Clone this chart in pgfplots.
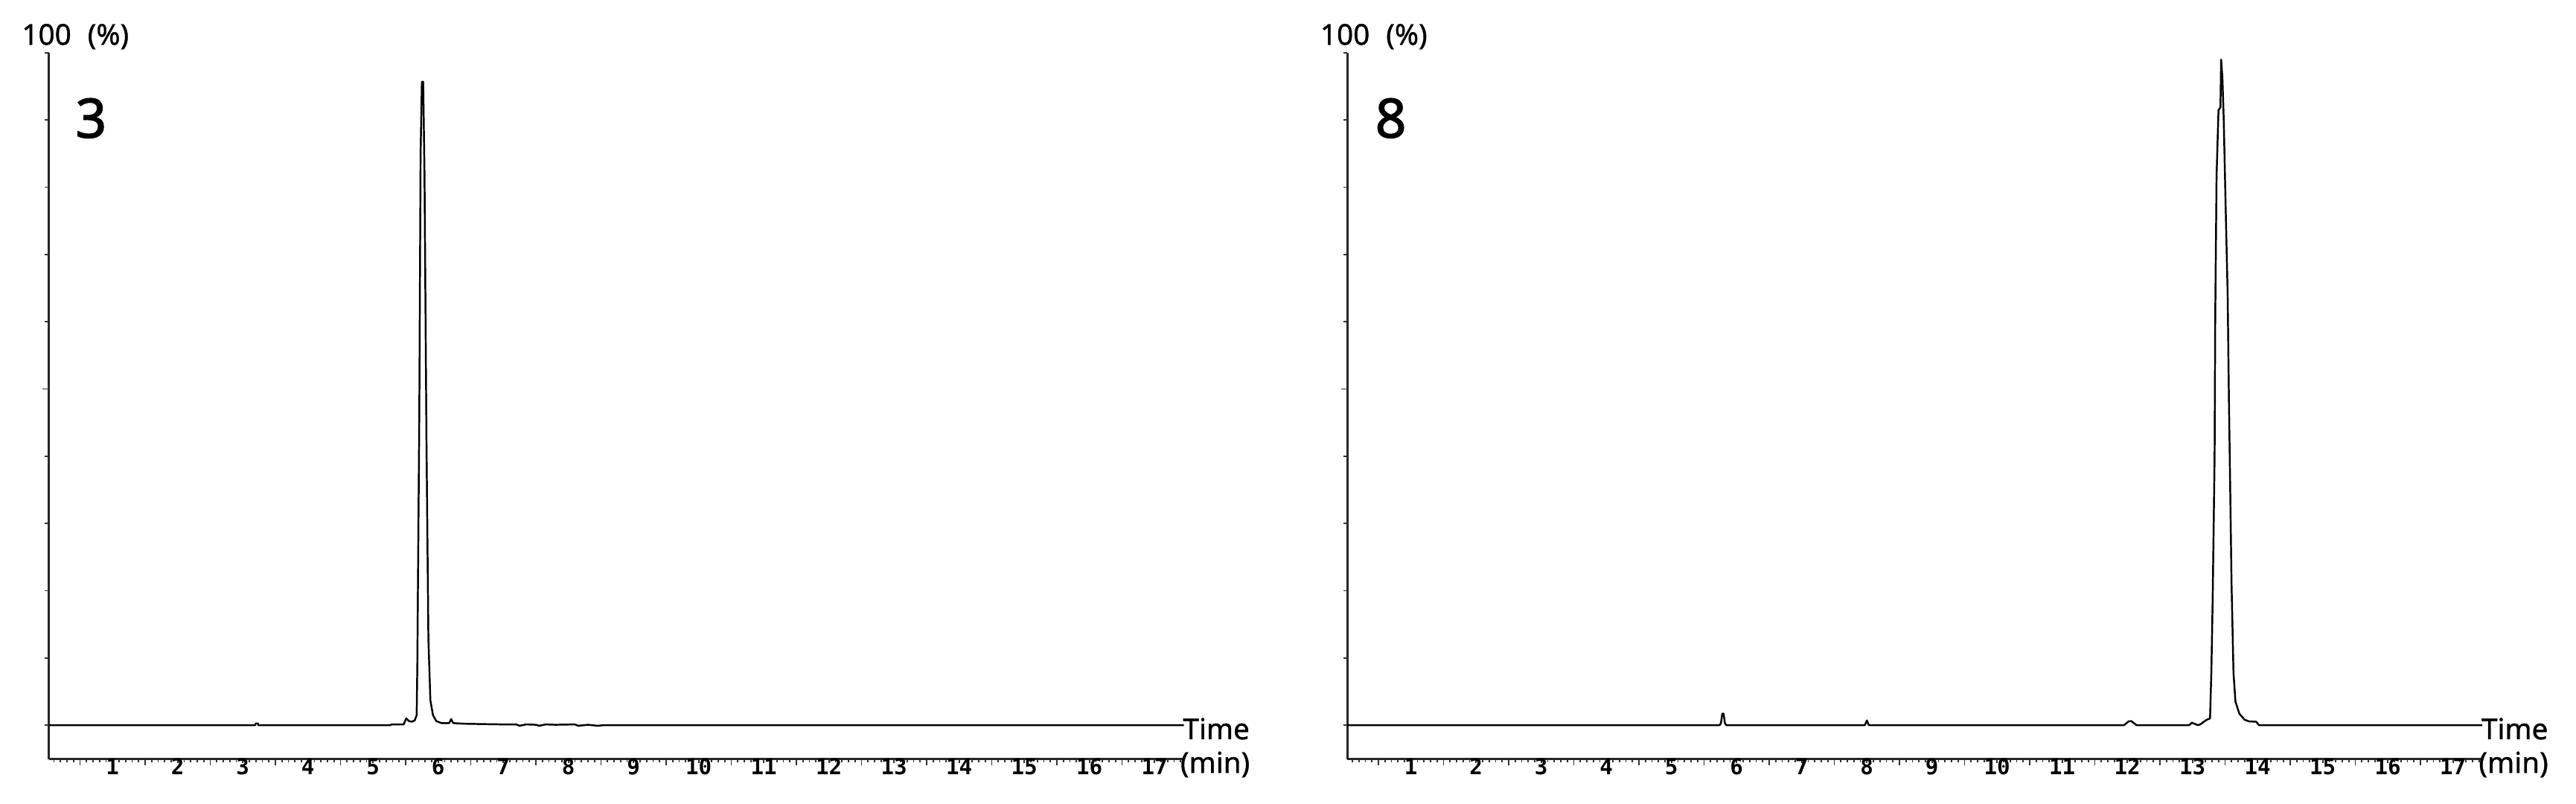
\documentclass[border=0pt]{standalone}
\usepackage{fontspec}
\setmainfont{Noto Sans}
\newfontfamily\lblfont{Noto Sans}[FakeBold=1]
\newfontfamily\bigfont{Noto Sans}[FakeBold=2]
\newfontfamily\tickfont{DejaVu Sans Mono}
\usepackage{pgfplots}
\pgfplotsset{compat=1.18}
\pgfplotsset{
  chrom/.style={
    scale only axis,
    width=15.25cm, height=9.49cm,
    xmin=0.02, xmax=17.45,
    ymin=-5.09, ymax=100,
    axis x line=bottom, axis y line=left,
    axis line style={-, line width=0.85pt, black!85},
    xtick={1,...,17},
    minor xtick={0.1,0.2,...,17.4},
    extra x ticks={0.5,1.5,...,17.5},
    extra x tick labels={},
    extra x tick style={major tick length=0.08cm},
    ytick={0,10,20,30,40,60,70,80,90,100},
    yticklabels={},
    extra y ticks={50},
    extra y tick labels={},
    extra y tick style={major tick length=0.085cm},
    tick align=outside,
    major tick length=0.05cm,
    minor tick length=0.04cm,
    every tick/.style={black!80, line width=0.5pt},
    xticklabel style={font=\tickfont\bfseries\fontsize{8.3}{9}\selectfont, anchor=north, yshift=0.10cm, inner sep=1pt},
    /pgf/number format/assume math mode=true,
    clip=false,
  },
  trace/.style={black, line width=0.7pt, line join=round},
}
\begin{document}
\begin{tikzpicture}
\useasboundingbox (0,0) rectangle (34.61,10.80);
% ---------- left: sample 3 ----------
\begin{axis}[chrom, at={(0.655cm,0.60cm)}, anchor=south west]
\addplot[trace] coordinates {
(0.02,0) (3.19,0) (3.20,0.25) (3.23,0.25) (3.24,0) (5.27,0) (5.28,0.1) (5.47,0.1)
(5.51,1.0) (5.55,0.6) (5.60,0.5) (5.64,0.7) (5.67,1.5) (5.68,9) (5.71,46)
(5.73,85) (5.75,95.7) (5.77,95.7) (5.79,82) (5.82,42.6) (5.85,12.8)
(5.88,3.7) (5.92,1.5) (5.97,0.6) (6.05,0.3) (6.17,0.3) (6.20,0.9) (6.23,0.3)
(6.40,0.2) (7.00,0.1) (7.20,0.1) (7.25,-0.1) (7.35,0.1) (7.50,0.05) (7.55,-0.1)
(7.65,0.1) (7.80,0.05) (8.10,0.1) (8.15,-0.1) (8.30,0.05) (8.45,-0.1) (8.55,0)
(17.45,0)
};
\node[anchor=base west, inner sep=0pt, font=\lblfont\fontsize{11}{13}\selectfont] at (axis cs:-0.40,101.2) {100\hspace{0.22cm}(\%)};
\node[anchor=base, inner sep=0pt, font=\bigfont\fontsize{20.7}{24}\selectfont] at (axis cs:0.67,87.4) {3};
\node[anchor=base west, inner sep=0pt, font=\lblfont\fontsize{11}{13}\selectfont] at (axis cs:17.43,-2.1) {Time};
\node[anchor=base west, inner sep=0pt, font=\lblfont\fontsize{11}{13}\selectfont] at (axis cs:17.39,-7.1) {(min)};
\end{axis}
% ---------- right: sample 8 ----------
\begin{axis}[chrom, at={(18.10cm,0.60cm)}, anchor=south west]
\addplot[trace] coordinates {
(0.02,0) (5.74,0) (5.76,0.3) (5.78,1.7) (5.80,1.7) (5.82,0.3) (5.84,0)
(7.97,0) (8.00,0.7) (8.03,0) (11.95,0) (12.02,0.55) (12.06,0.6) (12.10,0.3)
(12.14,0) (12.95,0) (12.99,0.35) (13.03,0.2) (13.08,0) (13.12,0.1) (13.16,0.4)
(13.22,0.8) (13.27,1.0) (13.29,7.8) (13.31,18.4) (13.34,39.8) (13.35,60.9)
(13.37,81.6) (13.40,91.5) (13.43,91.9) (13.44,99.0) (13.46,96.3) (13.48,90.2)
(13.51,76.9) (13.54,64.3) (13.56,48.3) (13.58,35.0) (13.60,21.1) (13.63,7.8)
(13.66,3.5) (13.72,1.7) (13.80,0.8) (13.87,0.55) (13.98,0.5) (14.02,0)
(17.45,0)
};
\node[anchor=base west, inner sep=0pt, font=\lblfont\fontsize{11}{13}\selectfont] at (axis cs:-0.40,101.2) {100\hspace{0.22cm}(\%)};
\node[anchor=base, inner sep=0pt, font=\bigfont\fontsize{20.7}{24}\selectfont] at (axis cs:0.69,87.4) {8};
\node[anchor=base west, inner sep=0pt, font=\lblfont\fontsize{11}{13}\selectfont] at (axis cs:17.43,-2.1) {Time};
\node[anchor=base west, inner sep=0pt, font=\lblfont\fontsize{11}{13}\selectfont] at (axis cs:17.39,-7.1) {(min)};
\end{axis}
\end{tikzpicture}
\end{document}
